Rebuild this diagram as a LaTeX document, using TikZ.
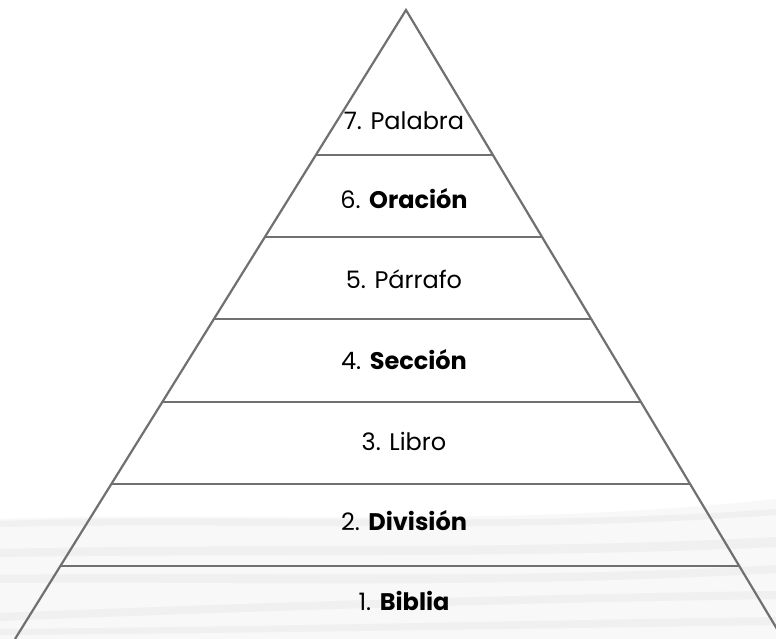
\documentclass[tikz,border=0pt]{standalone}
\usepackage{fontspec}
\setmainfont{Poppins}
\definecolor{pyrgray}{RGB}{112,112,112}
\definecolor{streakgray}{RGB}{228,228,228}

\begin{document}
\begin{tikzpicture}[x=1pt,y=1pt,
        levellabel/.style={font=\fontsize{24}{27}\selectfont, text=black, inner sep=0pt},
        streak/.style={fill=streakgray, opacity=0.4}]
    \useasboundingbox (0,0) rectangle (776,639);
    \fill[white] (0,0) rectangle (776,639);
    % background streaks
    \fill[streakgray, opacity=0.25] (0,0) -- (0,120) .. controls (250,128) and (500,110) .. (776,140) -- (776,0) -- cycle;
    \fill[streak] (0,118) .. controls (250,126) and (500,110) .. (776,130) -- (776,124) .. controls (500,104) and (250,118) .. (0,112) -- cycle;
    \fill[streak] (0,90) .. controls (260,96) and (520,88) .. (776,102) -- (776,92) .. controls (520,80) and (260,86) .. (0,82) -- cycle;
    \fill[streak] (0,64) .. controls (250,68) and (500,58) .. (776,74) -- (776,66) .. controls (500,50) and (250,58) .. (0,56) -- cycle;
    \fill[streak] (0,26) .. controls (250,36) and (500,44) .. (776,48) -- (776,40) .. controls (500,36) and (250,28) .. (0,18) -- cycle;
    \fill[streak] (0,10) .. controls (250,12) and (500,18) .. (776,22) -- (776,14) .. controls (500,10) and (250,6) .. (0,4) -- cycle;
    % pyramid
    \coordinate (apex) at (406,629);
    \coordinate (baseL) at (15,0);
    \coordinate (baseR) at (783,0);
    \draw[pyrgray, line width=2.2pt, line join=miter] (baseL) -- (apex) -- (baseR);
    \foreach \py in {155,237,319,402,484,566}
        \draw[pyrgray, line width=2.2pt] ({406-0.621*(\py-10)},{639-\py}) -- ({406+0.599*(\py-10)},{639-\py});
    % levels
    \node[levellabel] (l7) at (404,639-121) {7. Palabra};
    \node[levellabel] (l6) at (404,639-199) {6. \textbf{Oración}};
    \node[levellabel] (l5) at (404,639-279) {5. Párrafo};
    \node[levellabel] (l4) at (404,639-360) {4. \textbf{Sección}};
    \node[levellabel] (l3) at (404,639-441) {3. Libro};
    \node[levellabel] (l2) at (404,639-521) {2. \textbf{División}};
    \node[levellabel] (l1) at (404,639-601) {1. \textbf{Biblia}};
\end{tikzpicture}
\end{document}
